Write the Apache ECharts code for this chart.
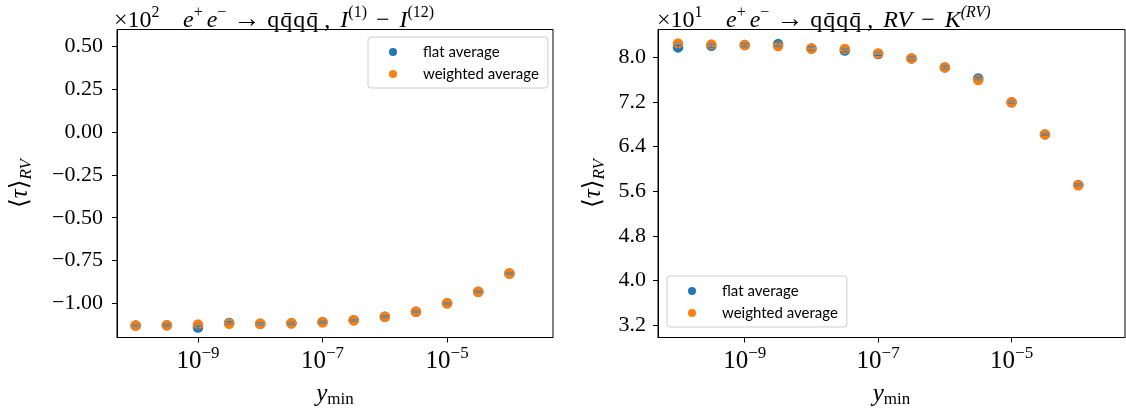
<!DOCTYPE html>
<html><head><meta charset="utf-8">
<script src="https://cdn.jsdelivr.net/npm/echarts@6/dist/echarts.min.js"></script>
<style>html,body{margin:0;padding:0;background:#fff}#c{width:1126px;height:414px}</style>
</head><body><div id="c"></div>
<script>
// ---- data ----
const yMinValues = [1e-10, 3.162e-10, 1e-9, 3.162e-9, 1e-8, 3.162e-8, 1e-7, 3.162e-7, 1e-6, 3.162e-6, 1e-5, 3.162e-5, 1e-4];
const seriesNames = ['flat average', 'weighted average'];
// left panel (×10^2)
const leftFlat      = [-1.130, -1.128, -1.142, -1.115, -1.120, -1.117, -1.110, -1.099, -1.079, -1.050, -1.000, -0.933, -0.826];
const leftWeighted  = [-1.130, -1.129, -1.124, -1.120, -1.120, -1.117, -1.111, -1.099, -1.079, -1.050, -1.000, -0.933, -0.826];
const leftFlatErr   = [0.006, 0.006, 0.008, 0.007, 0.006, 0.006, 0.005, 0.005, 0.005, 0.004, 0.004, 0.004, 0.003];
const leftWeightedErr = [0.004, 0.004, 0.004, 0.004, 0.004, 0.004, 0.003, 0.003, 0.003, 0.003, 0.003, 0.002, 0.002];
// right panel (×10^1)
const rightFlat     = [8.179, 8.208, 8.220, 8.238, 8.161, 8.125, 8.062, 7.982, 7.821, 7.624, 7.194, 6.620, 5.715];
const rightWeighted = [8.251, 8.233, 8.220, 8.203, 8.161, 8.149, 8.072, 7.982, 7.821, 7.593, 7.194, 6.620, 5.710];
const rightFlatErr  = [0.035, 0.035, 0.030, 0.035, 0.030, 0.030, 0.028, 0.025, 0.025, 0.022, 0.020, 0.018, 0.015];
const rightWeightedErr = [0.020, 0.020, 0.020, 0.020, 0.020, 0.018, 0.018, 0.016, 0.016, 0.015, 0.014, 0.012, 0.010];
// ticks
const xTicks = [1e-9, 1e-7, 1e-5];
const leftYTicks = [-1.00, -0.75, -0.50, -0.25, 0.00, 0.25, 0.50];
const rightYTicks = [3.2, 4.0, 4.8, 5.6, 6.4, 7.2, 8.0];
const leftExponent = 2, rightExponent = 1;

// ---- style ----
const SERIF = "'Liberation Serif', 'DejaVu Serif', serif";
const SANS = "Lato, 'DejaVu Sans', sans-serif";
const BLUE = '#1f77b4', ORANGE = '#ff7f0e';
const minus = s => s.replace('-', '\u2212');

const supRich = {
  b: {fontFamily: SERIF, fontSize: 25, color: '#000', verticalAlign: 'bottom', lineHeight: 28},
  s: {fontFamily: SERIF, fontSize: 17, color: '#000', verticalAlign: 'top', lineHeight: 17}
};
const T = {fontFamily: SERIF, fontWeight: 'normal', color: '#000'};
const B = (o) => Object.assign({fontSize: 24, verticalAlign: 'bottom', lineHeight: 28}, T, o);
const S = (o) => Object.assign({fontSize: 16, verticalAlign: 'top', lineHeight: 16}, T, o);
const titleRich = {
  r: B({}),
  i: B({fontStyle: 'italic'}),
  ip: B({fontStyle: 'italic', padding: [0, 0, 0, 4]}),
  ip2: B({fontStyle: 'italic', padding: [0, 0, 0, 10]}),
  ar: B({fontSize: 27, padding: [0, 7, 0, 7]}),
  q: B({padding: [0, 1, 0, 0]}),
  mn: B({padding: [0, 10, 0, 9]}),
  s: S({}),
  si: S({fontStyle: 'italic'})
};
const nameRich = {
  m: Object.assign({fontSize: 25, verticalAlign: 'top', lineHeight: 27}, T),
  mi: Object.assign({fontStyle: 'italic', fontSize: 25, verticalAlign: 'top', lineHeight: 27}, T),
  sub: Object.assign({fontSize: 17, verticalAlign: 'bottom', lineHeight: 17, padding: [10, 0, 0, 0]}, T),
  subi: Object.assign({fontStyle: 'italic', fontSize: 17, verticalAlign: 'bottom', lineHeight: 17, padding: [10, 0, 0, 0]}, T)
};
const qqqq = '{q|q}{q|q\u0304}{q|q}{r|q\u0304}';

const grids = [
  {left: 117, top: 29.5, width: 436, height: 308},
  {left: 658, top: 29.5, width: 467, height: 308}
];

function xAxis(gi) {
  return {
    type: 'log', logBase: 10, gridIndex: gi,
    min: Math.pow(10, -10.3), max: Math.pow(10, -3.3),
    name: '{mi|y}{sub|min}', nameLocation: 'middle', nameGap: 44,
    nameTextStyle: {rich: nameRich},
    axisLine: {show: true, onZero: false, lineStyle: {color: '#000', width: 1}},
    axisTick: {show: true, inside: false, length: 5, customValues: xTicks, lineStyle: {color: '#000', width: 1}},
    axisLabel: {
      customValues: xTicks, margin: 8, rich: supRich,
      formatter: v => '{b|10}{s|' + minus(String(Math.round(Math.log10(v)))) + '}'
    },
    splitLine: {show: false}, minorTick: {show: false}
  };
}
function yAxis(gi, min, max, ticks, digits, gap, margin) {
  return {
    type: 'value', gridIndex: gi, min: min, max: max,
    name: '{m|\u27E8}{mi|\u03C4}{m|\u27E9}{subi|RV}', nameLocation: 'middle', nameRotate: 90, nameGap: gap,
    nameTextStyle: {rich: nameRich},
    axisLine: {show: true, onZero: false, lineStyle: {color: '#000', width: 1}},
    axisTick: {show: true, inside: false, length: 5, customValues: ticks, lineStyle: {color: '#000', width: 1}},
    axisLabel: {customValues: ticks, margin: margin, fontFamily: SERIF, fontSize: 22, color: '#000',
      formatter: v => minus(v.toFixed(digits))},
    splitLine: {show: false}
  };
}

function scatter(name, gi, ys, color) {
  return {
    type: 'scatter', name: name, xAxisIndex: gi, yAxisIndex: gi,
    data: yMinValues.map((x, i) => [x, ys[i]]),
    symbol: 'circle', symbolSize: 10.5, itemStyle: {color: color, opacity: 1},
    emphasis: {disabled: true}, z: 2
  };
}
function errbar(gi, ys, errs, color) {
  return {
    type: 'custom', xAxisIndex: gi, yAxisIndex: gi, z: 4, silent: true,
    data: yMinValues.map((x, i) => [x, ys[i], errs[i]]),
    renderItem: (params, api) => {
      const x = api.value(0), y = api.value(1), e = api.value(2);
      const lo = api.coord([x, y - e]), hi = api.coord([x, y + e]);
      const w = 3.5;
      const st = {stroke: color, lineWidth: 1};
      return {type: 'group', children: [
        {type: 'line', shape: {x1: lo[0], y1: lo[1], x2: hi[0], y2: hi[1]}, style: st},
        {type: 'line', shape: {x1: lo[0] - w, y1: lo[1], x2: lo[0] + w, y2: lo[1]}, style: st},
        {type: 'line', shape: {x1: hi[0] - w, y1: hi[1], x2: hi[0] + w, y2: hi[1]}, style: st}
      ]};
    }
  };
}
function legend(left, top) {
  return {
    data: seriesNames, orient: 'vertical', left: left, top: top,
    icon: 'circle', itemWidth: 8, itemHeight: 8, itemGap: 6,
    padding: [7, 9, 6, 21],
    backgroundColor: '#fff', borderColor: '#cccccc', borderWidth: 1, borderRadius: 3,
    selectedMode: false,
    textStyle: {fontFamily: SANS, fontSize: 15, color: '#000', lineHeight: 16, padding: [0, 0, 0, 21]}
  };
}

const chart = echarts.init(document.getElementById('c'), null, {renderer: 'canvas'});
chart.setOption({
  animation: false,
  backgroundColor: '#fff',
  grid: grids.map(g => Object.assign({show: true, borderColor: '#000', borderWidth: 1, backgroundColor: 'transparent', containLabel: false}, g)),
  title: [
    {text: '{r|\u00D710}{s|' + leftExponent + '}', left: 109, top: 0, textStyle: {rich: titleRich}},
    {text: '{i|e}{s|+}{ip|e}{s|\u2212}{ar|\u2192}' + qqqq + '{r| ,}{ip2|I}{s|(1)}{mn|\u2212}{i|I}{s|(12)}', left: 178, top: 0, textStyle: {rich: titleRich}},
    {text: '{r|\u00D710}{s|' + rightExponent + '}', left: 652, top: 0, textStyle: {rich: titleRich}},
    {text: '{i|e}{s|+}{ip|e}{s|\u2212}{ar|\u2192}' + qqqq + '{r| ,}{ip2|RV}{mn|\u2212}{i|K}{si|(RV)}', left: 721, top: 0, textStyle: {rich: titleRich}}
  ],
  legend: [legend(368, 37), legend(667, 276)],
  xAxis: [xAxis(0), xAxis(1)],
  yAxis: [
    yAxis(0, -1.2, 0.6, leftYTicks, 2, 82, 14),
    yAxis(1, 2.98, 8.5, rightYTicks, 1, 50, 12)
  ],
  series: [
    scatter(seriesNames[0], 0, leftFlat, BLUE),
    scatter(seriesNames[1], 0, leftWeighted, ORANGE),
    scatter(seriesNames[0], 1, rightFlat, BLUE),
    scatter(seriesNames[1], 1, rightWeighted, ORANGE),
    errbar(0, leftFlat, leftFlatErr, BLUE),
    errbar(0, leftWeighted, leftWeightedErr, '#8a8a8a'),
    errbar(1, rightFlat, rightFlatErr, BLUE),
    errbar(1, rightWeighted, rightWeightedErr, '#8a8a8a')
  ]
});
</script>
</body></html>
